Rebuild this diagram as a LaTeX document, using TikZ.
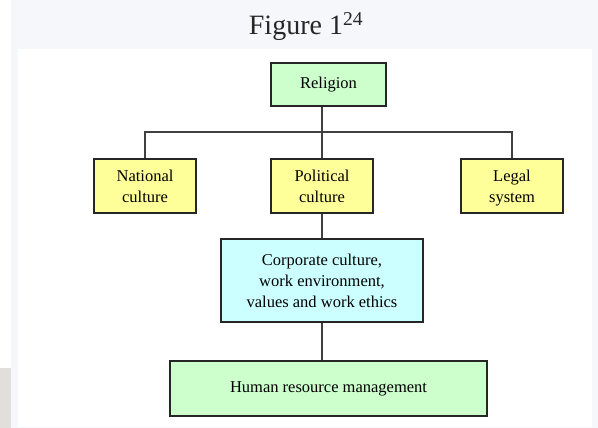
\documentclass[tikz,border=0pt]{standalone}
\usepackage{fontspec}
\setmainfont{Liberation Serif}
\definecolor{pagegray}{HTML}{F5F7FA}
\definecolor{scangray}{HTML}{E0DFDC}
\definecolor{boxgreen}{HTML}{CCFFCC}
\definecolor{boxyellow}{HTML}{FFFF99}
\definecolor{boxcyan}{HTML}{CCFFFF}
\begin{document}
\begin{tikzpicture}[x=1pt,y=-1pt,
  box/.style={draw=black!85,line width=1.4pt,align=center,inner sep=0pt,
    font=\fontsize{16.5}{21}\selectfont},
  link/.style={draw=black!75,line width=1.6pt}]
% page and panel
\fill[white] (0,0) rectangle (598,428);
\fill[pagegray] (11,0) rectangle (598,428);
\fill[white] (18,49) rectangle (592,427);
\fill[scangray] (0,368) rectangle (11,428);
\node (title) at (306,27) {\fontsize{28}{32}\selectfont\color{black!85}Figure 1\textsuperscript{24}};
% boxes
\node[box,fill=boxgreen,minimum width=115pt,minimum height=43pt] (rel) at (328.5,84.5) {Religion};
\node[box,fill=boxyellow,minimum width=102pt,minimum height=54pt] (nat) at (145,186) {National\\culture};
\node[box,fill=boxyellow,minimum width=102pt,minimum height=54pt] (pol) at (322,186) {Political\\culture};
\node[box,fill=boxyellow,minimum width=102pt,minimum height=54pt] (leg) at (512,186) {Legal\\\smash{system}};
\node[box,fill=boxcyan,minimum width=202pt,minimum height=83pt] (corp) at (322,280.5) {Corporate culture,\\work environment,\\values and work ethics};
\node[box,fill=boxgreen,minimum width=317pt,minimum height=55pt] (hrm) at (328.5,388.5) {Human resource management};
% connectors
\coordinate (bus) at (322,132);
\draw[link] (rel.south -| pol.north) -- (pol.north);
\draw[link] (nat.north) -- (nat.north |- bus) -- (leg.north |- bus) -- (leg.north);
\draw[link] (pol.south) -- (corp.north);
\draw[link] (corp.south) -- (hrm.north -| corp.south);
\end{tikzpicture}
\end{document}
